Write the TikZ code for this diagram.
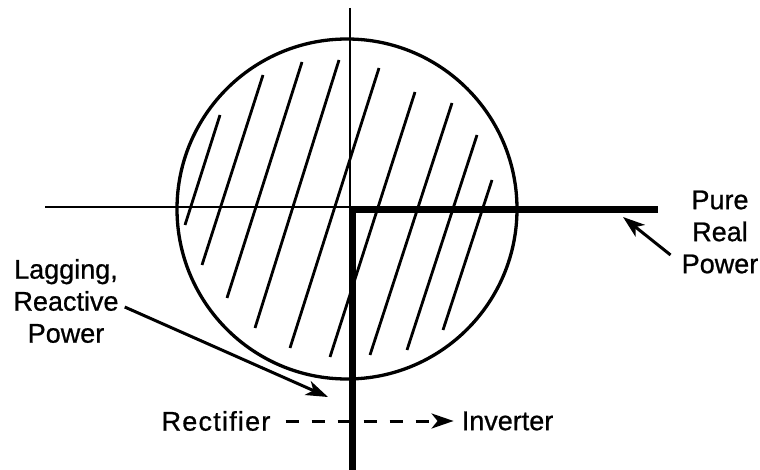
\documentclass[tikz,border=0pt]{standalone}
\usepackage{fontspec}
\setmainfont{Liberation Sans}[FakeBold=0.8]
\usetikzlibrary{arrows.meta,positioning,calc}
\tikzset{axisline/.style={line width=2.2pt}}
\tikzset{powerline/.style={line width=7.5pt}}
\tikzset{hatch/.style={line width=2.8pt}}
\tikzset{callout/.style={line width=3pt,-{Stealth[length=22pt,width=15pt,inset=6pt]}}}
\tikzset{caption/.style={font=\fontsize{27}{32}\selectfont, align=center, inner sep=2pt}}

\begin{document}
\begin{tikzpicture}[x=1pt,y=-1pt]
  \useasboundingbox (0,0) rectangle (760,470);

  % Hatching inside the circle
  \foreach \xa/\ya/\xb/\yb in {220/115/185/225, 263/75/202/265, 302/62/227/298,
      339/60/255/328, 379/68/290/348, 415/92/330/357, 452/103/370/355,
      477/135/407/350, 492/180/443/330}
    \draw[hatch] (\xa,\ya) -- (\xb,\yb);

  % Capability circle
  \draw[line width=3.3pt] (347,209) circle[radius=170];

  % Thin axes
  \draw[axisline] (45,207) -- (600,207);
  \draw[axisline] (350,8) -- (350,300);

  % Thick power lines
  \draw[powerline] (658,209.5) -- (352.5,209.5) -- (352.5,470);

  % Labels
  \node[caption] (lagging)   at (66,301)  {Lagging,\\Reactive\\Power};
  \node[caption] (pure)      at (720,232) {Pure\\Real\\Power};
  \node[caption] (rectifier) at (216,421) {\addfontfeatures{LetterSpace=4.5}Rectifier};
  \node[caption, right=187pt of rectifier] (inverter) {Inverter};

  % Arrow targets
  \coordinate (lagtip)  at (328,397);
  \coordinate (realtip) at (623,217);

  \draw[callout] ([xshift=4pt,yshift=-6pt]lagging.east) -- (lagtip);
  \draw[callout] ($(pure.west)+(-9,23)$) -- (realtip);
  \draw[callout, dash pattern=on 13pt off 13pt, shorten <=13pt, shorten >=6pt]
    (rectifier.east) -- (inverter.west);
\end{tikzpicture}
\end{document}
